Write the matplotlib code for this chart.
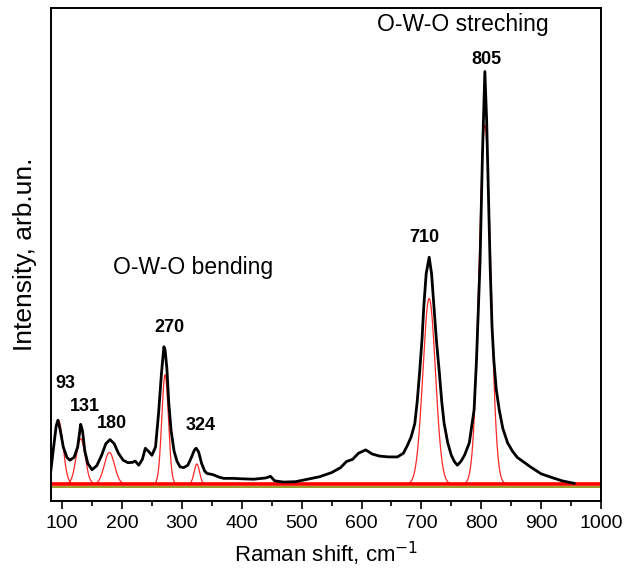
# Raman spectrum with fitted components
import numpy as np
import matplotlib.pyplot as plt

plt.rcParams['font.family'] = ['Liberation Sans', 'DejaVu Sans']

shift = [81, 85, 90, 93, 97, 102, 108, 113, 120, 126, 131, 134, 138, 143, 150,
         158, 166, 173, 180, 187, 194, 202, 210, 218, 222, 228, 234, 239, 244,
         250, 256, 261, 266, 270, 272, 275, 278, 282, 287, 292, 297, 303, 310,
         316, 321, 324, 328, 333, 338, 342, 352, 362, 370, 385, 400, 420, 440,
         448, 455, 470, 490, 510, 530, 550, 565, 575, 585, 595, 607, 618, 630,
         645, 660, 670, 677, 683, 689, 693, 697, 701, 704, 708, 713, 717, 721,
         725, 730, 734, 738, 744, 750, 755, 760, 766, 772, 780, 788, 792, 798,
         802, 806, 809, 812, 815, 818, 821, 825, 830, 836, 844, 852, 860, 882,
         900, 916, 935, 955]
intensity = [3, 8, 14, 15.5, 13, 9, 6.5, 5.8, 6.5, 9, 14.5, 13, 8, 5, 3.5,
             4.5, 7, 9.8, 10.8, 9.8, 7.5, 5.8, 5.2, 5.3, 5.6, 4.6, 6, 8.7, 8,
             7, 9, 17, 27, 33.3, 32.5, 28, 20, 13, 8, 5.5, 4.2, 4, 4.6,
             6.5, 8.3, 8.7, 7.8, 5, 3.2, 2.6, 2.3, 1.7, 1.4, 1.4, 1.3, 1.2, 1.5,
             1.9, 0.8, 0.5, 0.6, 1.2, 1.8, 2.8, 4.0, 5.5, 6, 7.5, 8.3, 7.3, 6.8,
             6.6, 6.6, 7.5, 9.5, 11.5, 14.7, 20, 27, 35, 43, 51, 55, 51, 43,
             35, 27, 20, 14.7, 10, 7, 5.5, 4.6, 5.5, 7, 10, 18, 30, 54,
             80, 100, 88, 70, 52, 38, 30, 23, 18, 13.5, 10, 8, 6.5, 4.2,
             2.5, 1.7, 0.8, 0.2]

# fitted Gaussian components: centre, height, width (sigma)
comp_center = [94, 131, 179, 272, 325, 713, 806]
comp_height = [15.5, 11, 7.7, 26.5, 4.9, 45, 87]
comp_sigma = [7.5, 7.5, 8.5, 5.5, 4.5, 10.5, 9.7]

# peak labels
peak_labels = ['93', '131', '180', '270', '324', '710', '805']
label_x = [105, 138, 184, 279, 331, 705, 809]
label_y = [24.5, 18.7, 14.8, 37.9, 14.3, 59.7, 103]

fig = plt.figure(figsize=(6.34, 5.84), dpi=100)
ax = fig.add_axes([0.08, 0.142, 0.868, 0.845])

x = np.linspace(60, 1000, 3000)
for c, h, s in zip(comp_center, comp_height, comp_sigma):
    ax.plot(x, h * np.exp(-0.5 * ((x - c) / s) ** 2), color='red', lw=0.9, alpha=0.85)

ax.axhline(-0.6, color='#8a8a00', lw=1.2)
ax.axhline(0, color='red', lw=2.6)
ax.plot(shift, intensity, color='black', lw=2.0)

for t, lx, ly in zip(peak_labels, label_x, label_y):
    ax.text(lx, ly, t, ha='center', va='center', fontsize=13, fontweight='bold')

ax.text(319, 52.4, 'O-W-O bending', ha='center', va='center', fontsize=16.5)
ax.text(770, 111.4, 'O-W-O streching', ha='center', va='center', fontsize=16.5)

ax.set_xlim(81, 1000)
ax.set_ylim(-4.1, 115.5)
ax.set_xticks(range(100, 1001, 100))
ax.set_xticks(range(150, 1000, 100), minor=True)
ax.set_yticks([])
ax.tick_params(axis='x', which='major', length=6, width=1.2, labelsize=14, pad=4)
ax.tick_params(axis='x', which='minor', length=3.5, width=1.2)
for sp in ax.spines.values():
    sp.set_linewidth(1.4)

ax.set_xlabel('Raman shift, cm$^{-1}$', fontsize=16, labelpad=6)
ax.set_ylabel('Intensity, arb.un.', fontsize=19, labelpad=10)

fig.savefig('out.png', dpi=100)
